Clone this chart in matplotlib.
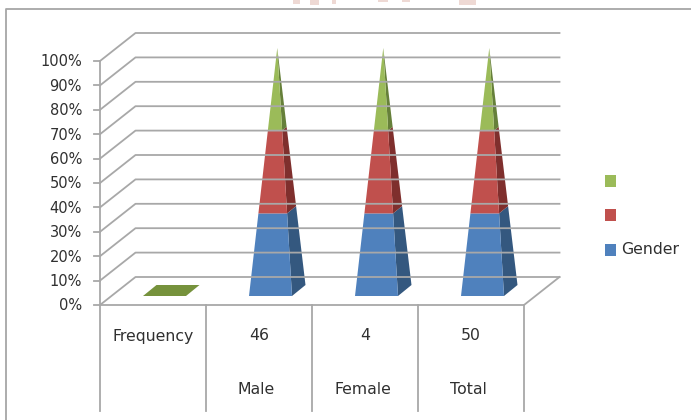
import matplotlib as mpl
mpl.use('Agg')
import matplotlib.pyplot as plt
from matplotlib.patches import Polygon, Rectangle

# percent shares of the three stacked series, per category
categories = ['Frequency', 'Male', 'Female', 'Total']
counts = ['', '46', '4', '50']
gender = [0, 33.3, 33.3, 33.3]
second = [0, 33.4, 33.4, 33.4]
third = [0, 33.3, 33.3, 33.3]
pct_ticks = [0, 10, 20, 30, 40, 50, 60, 70, 80, 90, 100]

front_col = ['#4f81bd', '#c0504d', '#9bbb59']
side_col = ['#34587f', '#7f2f2d', '#66803a']
grid_col = '#a8a8a8'
text_col = '#303030'

# plot box in pixels
x0, x1 = 100, 524
y0, y100 = 305, 61
dx, dy = 35.5, -28
cell = (x1 - x0) / len(categories)
bar_w = 43


def ypos(pct):
    return y0 + (y100 - y0) * pct / 100


fig = plt.figure(figsize=(6.91, 4.2), dpi=100)
ax = fig.add_axes([0, 0, 1, 1])
ax.set_xlim(0, 691)
ax.set_ylim(420, 0)
ax.axis('off')

# faint stamp cut off by the top edge
for sx, sw, sh in [(293, 7, 4), (310, 9, 5), (332, 4, 4), (378, 10, 2), (402, 8, 1.5), (459, 17, 5)]:
    ax.add_patch(Rectangle((sx, 0), sw, sh, color='#eed9d4', lw=0))

# outer frame
ax.plot([6.5, 6.5, 691], [420, 8.5, 8.5], color='#a6a6a6', lw=1.3)

# back wall gridlines, side wall diagonals and ticks
for p in pct_ticks:
    y = ypos(p)
    ax.plot([x0, x0 + dx, x1 + dx], [y, y + dy, y + dy], color=grid_col, lw=1.3)
    ax.plot([x0 - 6, x0], [y, y], color=grid_col, lw=1.3)
    ax.text(82, y + 1, '%d%%' % p, ha='right', va='center', fontsize=10.5, color=text_col)

ax.plot([x0, x0], [y100, y0], color=grid_col, lw=1.3)
ax.plot([x0, x1, x1 + dx], [y0, y0, y0 + dy], color=grid_col, lw=1.3)

# category table below the floor
for i in range(len(categories) + 1):
    x = x0 + i * cell
    ax.plot([x, x], [y0, 411], color=grid_col, lw=1.3)

for i, name in enumerate(categories):
    cx = x0 + (i + 0.5) * cell
    if counts[i]:
        ax.text(cx, 336, counts[i], ha='center', va='center', fontsize=11.3, color=text_col)
        ax.text(cx - 2.5, 389, name, ha='center', va='center', fontsize=11.3, color=text_col)
    else:
        ax.text(cx, 336, name, ha='center', va='center', fontsize=11.3, color=text_col)


def along(base, apex, frac):
    return (base[0] + (apex[0] - base[0]) * frac, base[1] + (apex[1] - base[1]) * frac)


# pyramids
for i in range(len(categories)):
    left = x0 + (i + 0.5) * cell - bar_w / 2 + 11.5
    fl = (left, 296)
    fr = (left + bar_w, 296)
    br = (left + bar_w + 13.5, 285)
    bl = (left + 13.5, 285)
    total = gender[i] + second[i] + third[i]
    if total == 0:
        ax.add_patch(Polygon([fl, fr, br, bl], color='#76923c', lw=0))
        continue
    apex = (left + bar_w / 2 + 6.75, 48)
    bottom = 0
    for vals, fc, sc in zip([gender, second, third], front_col, side_col):
        top = bottom + vals[i]
        a, b = bottom / total, top / total
        ax.add_patch(Polygon([along(fr, apex, a), along(br, apex, a), along(br, apex, b), along(fr, apex, b)],
                             color=sc, lw=0))
        ax.add_patch(Polygon([along(fl, apex, a), along(fr, apex, a), along(fr, apex, b), along(fl, apex, b)],
                             color=fc, lw=0))
        bottom = top

# legend, top entry last series
legend_y = [181, 215, 250]
for y, c, label in zip(legend_y, front_col[::-1], ['', '', 'Gender']):
    ax.add_patch(Rectangle((605, y - 6), 11, 12, color=c, lw=0))
    if label:
        ax.text(621, y, label, ha='left', va='center', fontsize=11.3, color=text_col)

fig.savefig('out.png', dpi=100)
